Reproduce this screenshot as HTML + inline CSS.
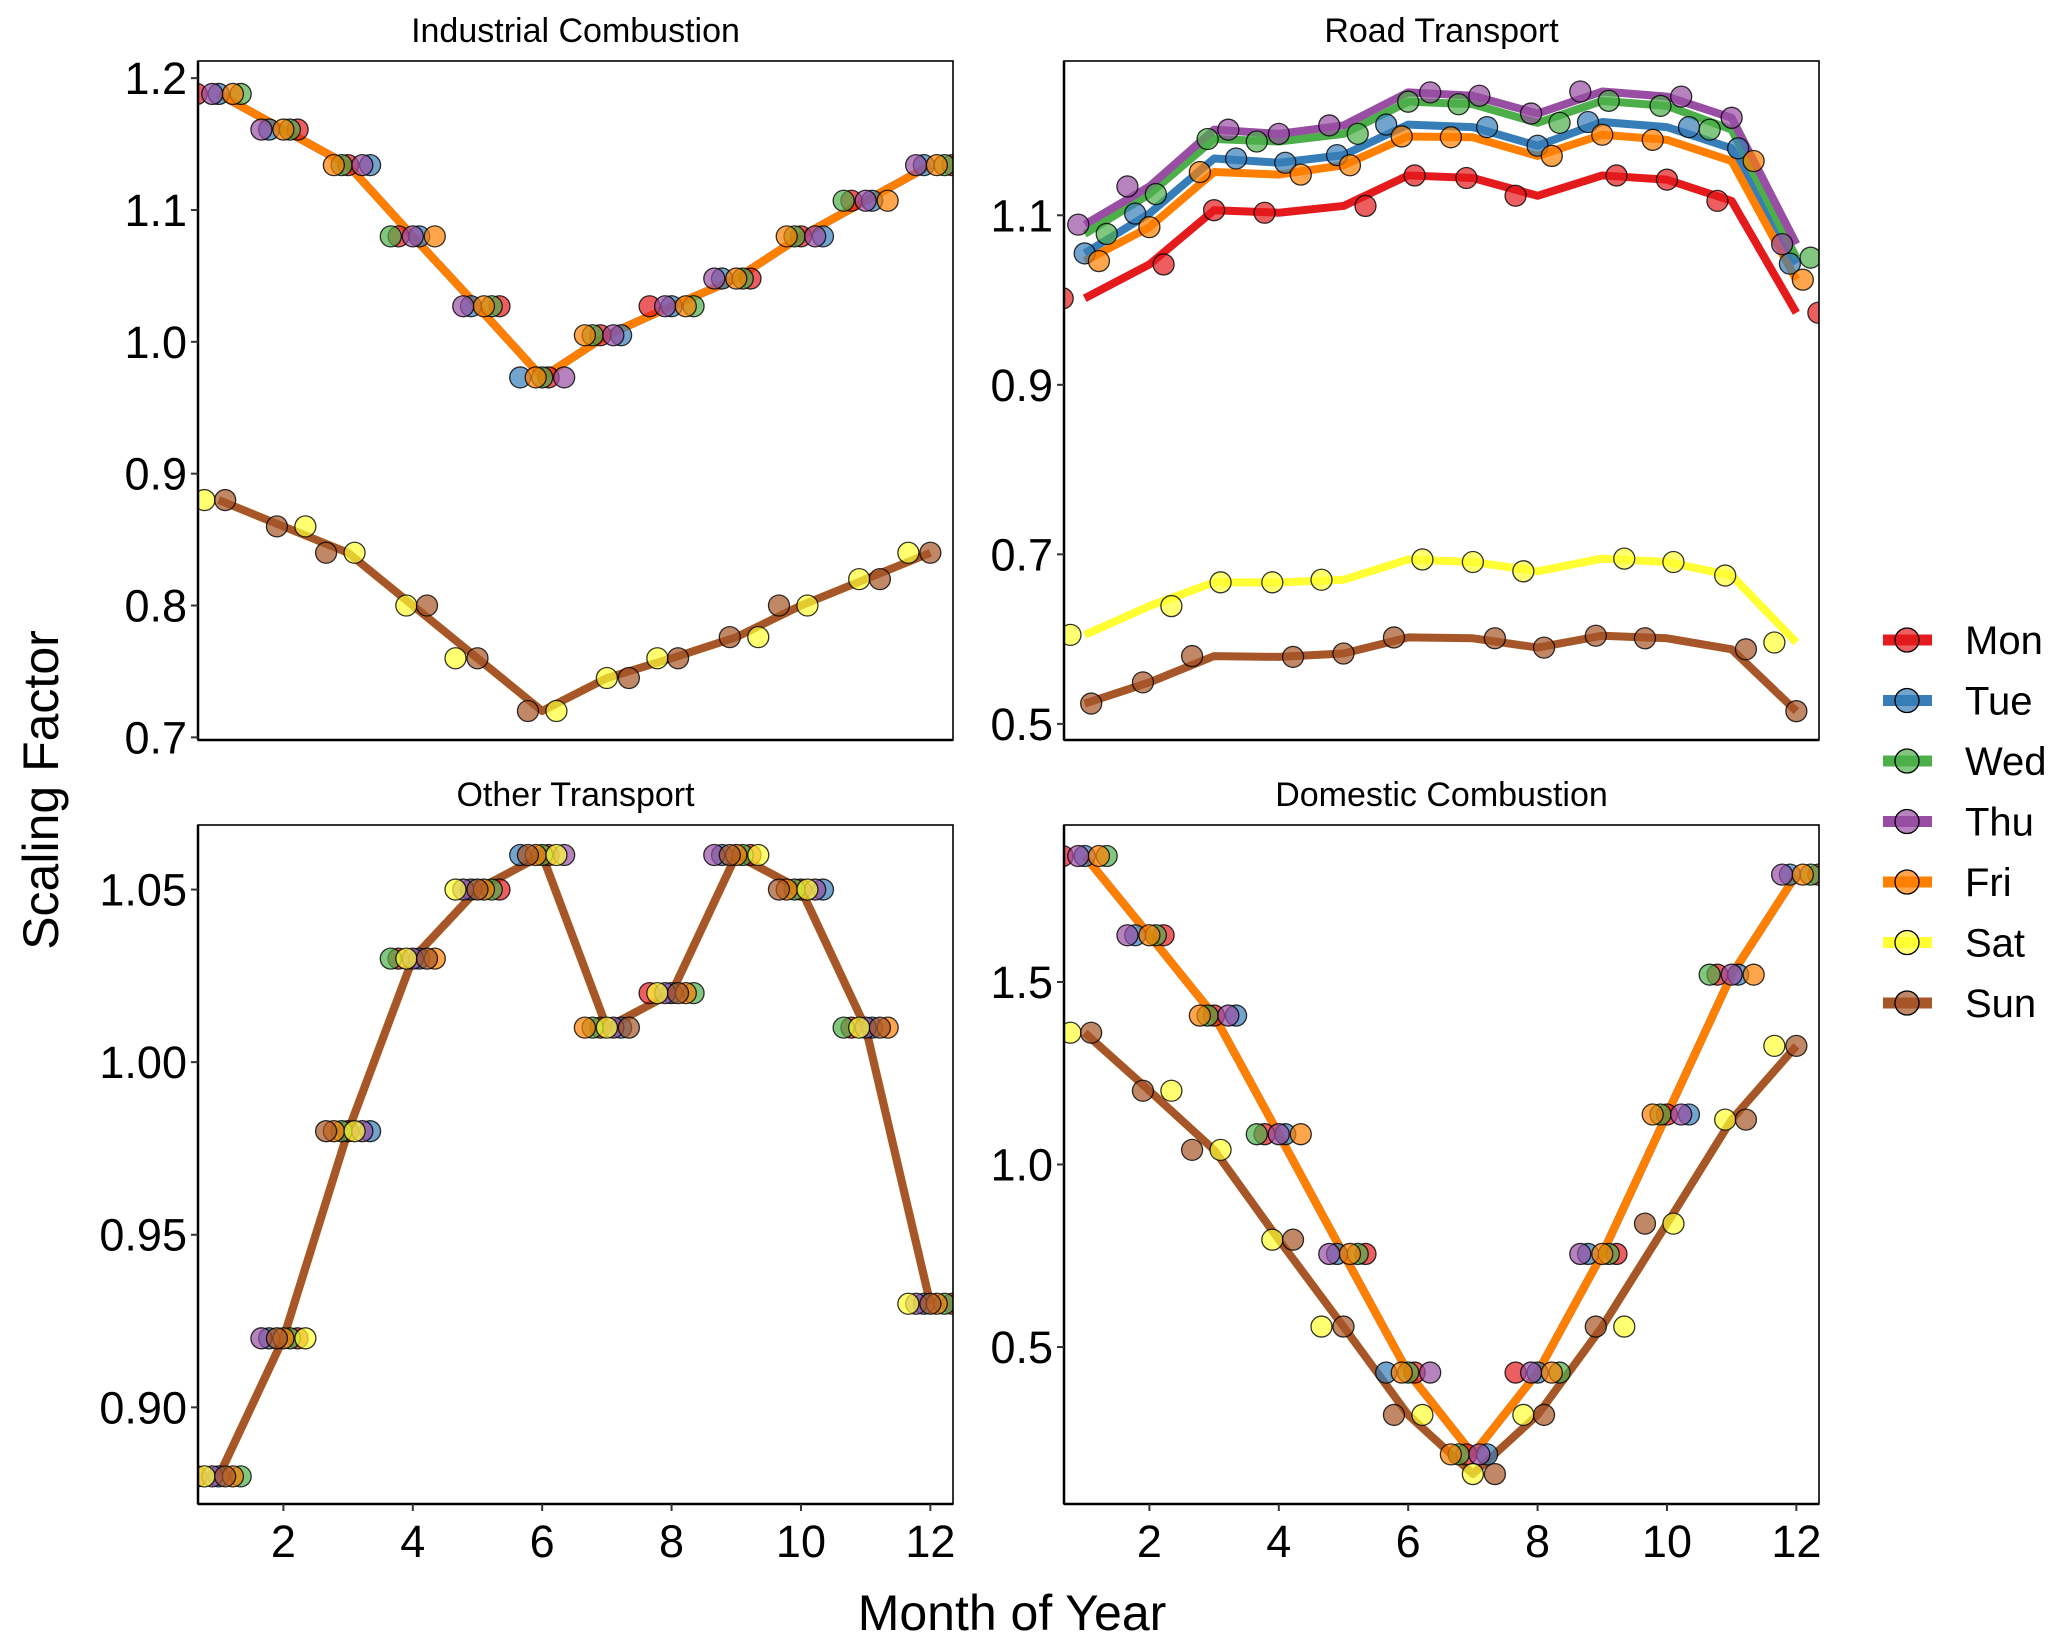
<!DOCTYPE html>
<html><head><meta charset="utf-8"><style>
html,body{margin:0;padding:0;background:#fff;}
svg{display:block;font-family:"Liberation Sans",Arial,sans-serif;}
</style></head><body>
<svg id="chart" width="2067" height="1640" viewBox="0 0 2067 1640" xmlns="http://www.w3.org/2000/svg">
<text x="0" y="0" transform="translate(58,790) rotate(-90)" font-size="50" text-anchor="middle">Scaling Factor</text>
<text x="1012" y="1630" font-size="50" text-anchor="middle">Month of Year</text>
</svg>
<script>
const days = ["Mon","Tue","Wed","Thu","Fri","Sat","Sun"];
const dayColors = ["#E41A1C","#377EB8","#4DAF4A","#984EA3","#FF7F00","#FFFF33","#A65628"];
const months = [1,2,3,4,5,6,7,8,9,10,11,12];
// Industrial Combustion
const indWeekday = [1.188,1.161,1.134,1.080,1.027,0.973,1.005,1.027,1.048,1.080,1.107,1.134];
const indWeekend = [0.880,0.860,0.840,0.800,0.760,0.720,0.745,0.760,0.776,0.800,0.820,0.840];
// Road Transport
const roadMon = [1.002,1.042,1.106,1.103,1.111,1.147,1.144,1.123,1.147,1.142,1.117,0.985];
const roadTue = [1.055,1.102,1.167,1.162,1.171,1.207,1.204,1.182,1.210,1.204,1.179,1.043];
const roadWed = [1.078,1.125,1.190,1.187,1.196,1.234,1.231,1.209,1.235,1.229,1.201,1.050];
const roadThu = [1.089,1.134,1.201,1.196,1.206,1.245,1.241,1.220,1.246,1.240,1.215,1.066];
const roadFri = [1.046,1.086,1.151,1.148,1.159,1.193,1.192,1.170,1.195,1.189,1.164,1.024];
const roadSat = [0.605,0.639,0.667,0.667,0.670,0.694,0.691,0.680,0.695,0.691,0.675,0.596];
const roadSun = [0.524,0.549,0.580,0.579,0.583,0.602,0.601,0.590,0.604,0.601,0.588,0.515];
// Other Transport (all days)
const otherAll = [0.880,0.920,0.980,1.030,1.050,1.060,1.010,1.020,1.060,1.050,1.010,0.930];
// Domestic Combustion
const domWeekday = [1.845,1.628,1.408,1.083,0.755,0.430,0.206,0.430,0.755,1.137,1.520,1.794];
const domWeekend = [1.361,1.202,1.040,0.794,0.556,0.314,0.152,0.314,0.556,0.838,1.123,1.325];
const ticksInd = [0.7,0.8,0.9,1.0,1.1,1.2];
const ticksRoad = [0.5,0.7,0.9,1.1];
const ticksOther = [0.90,0.95,1.00,1.05];
const ticksDom = [0.5,1.0,1.5];
const xTicks = [2,4,6,8,10,12];

const NS="http://www.w3.org/2000/svg";
const svg=document.getElementById('chart');
function mk(tag,attrs,parent){const e=document.createElementNS(NS,tag);for(const k in attrs)e.setAttribute(k,attrs[k]);(parent||svg).appendChild(e);return e;}
const jit=[-0.34,-0.22,-0.1,0,0.1,0.22,0.34];

const panels=[
 {name:"industrial-combustion",title:"Industrial Combustion",x0:198,y0:61,dom:[0.698,1.213],ticks:ticksInd,fmt:1,xl:false,
  series:[indWeekday,indWeekday,indWeekday,indWeekday,indWeekday,indWeekend,indWeekend]},
 {name:"road-transport",title:"Road Transport",x0:1064,y0:61,dom:[0.481,1.282],ticks:ticksRoad,fmt:1,xl:false,
  series:[roadMon,roadTue,roadWed,roadThu,roadFri,roadSat,roadSun]},
 {name:"other-transport",title:"Other Transport",x0:198,y0:825,dom:[0.872,1.0687],ticks:ticksOther,fmt:2,xl:true,
  series:[otherAll,otherAll,otherAll,otherAll,otherAll,otherAll,otherAll]},
 {name:"domestic-combustion",title:"Domestic Combustion",x0:1064,y0:825,dom:[0.070,1.93],ticks:ticksDom,fmt:1,xl:true,
  series:[domWeekday,domWeekday,domWeekday,domWeekday,domWeekday,domWeekend,domWeekend]}
];
const W=755,H=679;
panels.forEach((p,pi)=>{
  const g=mk('g',{});
  
  
  const xs=m=>p.x0+(m-0.68)/(12.35-0.68)*W;
  const ys=v=>p.y0+H-(v-p.dom[0])/(p.dom[1]-p.dom[0])*H;
  const t=mk('text',{x:p.x0+W/2,y:p.y0-19,'font-size':34,'text-anchor':'middle'},g);
  
  
  t.textContent=p.title;
  const cid='clip'+pi;
  const cp=mk('clipPath',{id:cid},g);mk('rect',{x:p.x0,y:p.y0,width:W,height:H},cp);
  const plot=mk('g',{'clip-path':'url(#'+cid+')'},g);
  p.series.forEach((s,d)=>{
    const pts=months.map((m,i)=>xs(m)+','+ys(s[i])).join(' ');
    const l=mk('polyline',{points:pts,fill:'none',stroke:dayColors[d],'stroke-width':8,'stroke-linejoin':'round'},plot);
    
    
  });
  p.series.forEach((s,d)=>{
    months.forEach((m,i)=>{
      const off=jit[(d*3+i*5)%7];
      const c=mk('circle',{cx:xs(m+off),cy:ys(s[i]),r:10.5,fill:dayColors[d],'fill-opacity':0.7,stroke:'#000','stroke-opacity':0.8,'stroke-width':1.3},plot);
      
      
    });
  });
  mk('rect',{x:p.x0,y:p.y0,width:W,height:H,fill:'none',stroke:'#000','stroke-width':1.6},g);
  mk('line',{x1:p.x0,y1:p.y0,x2:p.x0,y2:p.y0+H,stroke:'#000','stroke-width':2.5},g);
  mk('line',{x1:p.x0,y1:p.y0+H,x2:p.x0+W,y2:p.y0+H,stroke:'#000','stroke-width':2.5},g);
  p.ticks.forEach(v=>{
    mk('line',{x1:p.x0-7,y1:ys(v),x2:p.x0,y2:ys(v),stroke:'#333','stroke-width':2},g);
    const tl=mk('text',{x:p.x0-11,y:ys(v)+16,'font-size':45,'text-anchor':'end'},g);
    
    
    tl.textContent=v.toFixed(p.fmt);
  });
  if(p.xl){
    xTicks.forEach(m=>{
      mk('line',{x1:xs(m),y1:p.y0+H,x2:xs(m),y2:p.y0+H+7,stroke:'#333','stroke-width':2},g);
      const tl=mk('text',{x:xs(m),y:p.y0+H+53,'font-size':45,'text-anchor':'middle'},g);
      
      
      tl.textContent=m;
    });
  }
});
days.forEach((d,i)=>{
  const y=640+i*60.5;
  const g=mk('g',{});
  
  
  mk('line',{x1:1883,y1:y,x2:1932,y2:y,stroke:dayColors[i],'stroke-width':11},g);
  mk('circle',{cx:1907,cy:y,r:12,fill:dayColors[i],'fill-opacity':0.7,stroke:'#000','stroke-width':1.3},g);
  const t=mk('text',{x:1965,y:y+14,'font-size':40},g);
  t.textContent=d;
});
</script>
</body></html>
